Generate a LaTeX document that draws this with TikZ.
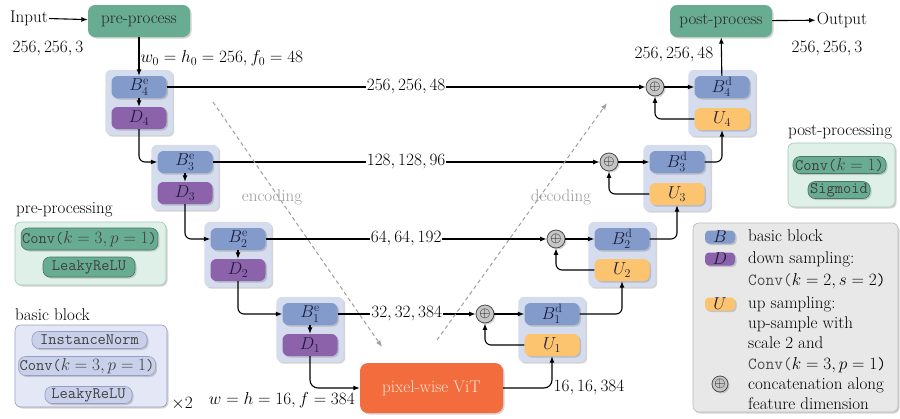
\documentclass[tikz,border=0pt]{standalone}
\usetikzlibrary{arrows.meta,shadows,fit,backgrounds}

\definecolor{grnD}{RGB}{104,172,145}
\definecolor{grnL}{RGB}{222,240,231}
\definecolor{grnE}{RGB}{165,200,183}
\definecolor{bluB}{RGB}{130,155,202}
\definecolor{purD}{RGB}{140,98,170}
\definecolor{orgU}{RGB}{252,196,110}
\definecolor{grpbg}{RGB}{212,220,238}
\definecolor{vitc}{RGB}{242,108,62}
\definecolor{vittxt}{RGB}{255,228,210}
\definecolor{legbg}{RGB}{232,232,232}
\definecolor{bbL}{RGB}{228,232,246}
\definecolor{bbP}{RGB}{200,208,234}
\definecolor{bbE}{RGB}{150,158,195}
\definecolor{txtdark}{RGB}{28,30,60}

\begin{document}
\begin{tikzpicture}[x=1pt,y=-1pt,
  font=\fontsize{17}{20}\selectfont,
  >={Latex[length=6.5pt,width=5pt]},
  conn/.style={->, line width=1.1pt},
  shad/.style={drop shadow={shadow xshift=1.5pt,shadow yshift=-1.5pt,opacity=.35}},
  blk/.style={shad, rounded corners=6pt, minimum width=55pt, minimum height=22pt, inner sep=0pt, text=txtdark},
  bb/.style={blk, fill=bluB},
  dd/.style={blk, fill=purD},
  uu/.style={blk, fill=orgU},
  grp/.style={fill=grpbg, rounded corners=6pt, inner sep=6pt, shad},
  cat/.style={circle, draw=black!70, fill=gray!45, minimum size=18pt, inner sep=0pt, line width=0.8pt, shad, font=\fontsize{15}{15}\selectfont},
  proc/.style={shad, rounded corners=7pt, fill=grnD, minimum width=102pt, minimum height=32pt, inner sep=0pt, text=black!85},
  panel/.style={shad, rounded corners=6pt, line width=0.6pt},
  pill/.style={shad, rounded corners=7pt, inner sep=1pt, line width=0.6pt, font=\fontsize{16}{16}\selectfont, text=black!75},
  gpill/.style={pill, fill=grnD, draw=grnD!70!black},
  bpill/.style={pill, fill=bbP, draw=bbE},
  swatch/.style={shad, rounded corners=4pt, minimum width=30pt, minimum height=13pt, inner sep=0pt, text=txtdark},
  legtxt/.style={anchor=west, inner sep=0pt, text height=12pt, text depth=4pt},
  dim/.style={inner sep=1pt}
]
\useasboundingbox (0,0) rectangle (900,418);

% ---------- input / output ----------
\node[dim] (in) at (29,18) {Input};
\node[proc] (pre) at (139,21) {pre-process};
\node[dim] at (48,49) {$256, 256, 3$};
\node[proc] (post) at (721,21) {post-process};
\node[dim] (out) at (842,20) {Output};
\node[dim] at (827,49) {$256, 256, 3$};
\node[dim] at (674,55) {$256, 256, 48$};

% ---------- encoder ----------
\node[bb] (B4e) at (139,87) {$B^{\mathrm{e}}_4$};
\node[dd] (D4)  at (139,118) {$D_4$};
\node[bb] (B3e) at (185,162) {$B^{\mathrm{e}}_3$};
\node[dd] (D3)  at (185,193) {$D_3$};
\node[bb] (B2e) at (238,239) {$B^{\mathrm{e}}_2$};
\node[dd] (D2)  at (238,270) {$D_2$};
\node[bb] (B1e) at (310,314) {$B^{\mathrm{e}}_1$};
\node[dd] (D1)  at (310,345) {$D_1$};

% ---------- decoder ----------
\node[bb] (B4d) at (722,87) {$B^{\mathrm{d}}_4$};
\node[uu] (U4)  at (722,119) {$U_4$};
\node[bb] (B3d) at (677,162) {$B^{\mathrm{d}}_3$};
\node[uu] (U3)  at (677,194) {$U_3$};
\node[bb] (B2d) at (622,239) {$B^{\mathrm{d}}_2$};
\node[uu] (U2)  at (622,270) {$U_2$};
\node[bb] (B1d) at (552,314) {$B^{\mathrm{d}}_1$};
\node[uu] (U1)  at (552,345) {$U_1$};

% ---------- concatenation nodes ----------
\node[cat] (c4) at (655,87) {$\oplus$};
\node[cat] (c3) at (609,162) {$\oplus$};
\node[cat] (c2) at (556,239) {$\oplus$};
\node[cat] (c1) at (485,314) {$\oplus$};

% ---------- bottleneck ----------
\node[shad, rounded corners=8pt, fill=vitc, minimum width=143pt, minimum height=50pt,
      inner sep=0pt, text=vittxt] (vit) at (431.5,388) {pixel-wise ViT};
\node[dim, anchor=east] at (356,400) {$w = h = 16, f = 384$};
\node[dim] at (589,388) {$16, 16, 384$};

% ---------- block groups ----------
\begin{pgfonlayer}{background}
  \node[grp, fit=(B4e)(D4)] {};
  \node[grp, fit=(B3e)(D3)] {};
  \node[grp, fit=(B2e)(D2)] {};
  \node[grp, fit=(B1e)(D1)] {};
  \node[grp, fit=(B4d)(U4)] {};
  \node[grp, fit=(B3d)(U3)] {};
  \node[grp, fit=(B2d)(U2)] {};
  \node[grp, fit=(B1d)(U1)] {};
\end{pgfonlayer}

% ---------- connectors ----------
\draw[conn] (in) -- (pre);
\draw[conn] (pre) -- node[dim, anchor=west, pos=0.55] {$w_0 = h_0 = 256, f_0 = 48$} (B4e);
\draw[conn] (post) -- (out);
\draw[conn] (B4d) -- (post);

\foreach \b/\d in {B4e/D4, B3e/D3, B2e/D2, B1e/D1}
  \draw[conn] (\b) -- (\d);

\draw[conn, rounded corners=6pt] (D4.south) |- (B3e.west);
\draw[conn, rounded corners=6pt] (D3.south) |- (B2e.west);
\draw[conn, rounded corners=6pt] (D2.south) |- (B1e.west);
\draw[conn, rounded corners=8pt] (D1.south) |- (vit.west);
\draw[conn, rounded corners=8pt] (vit.east) -| (U1.south);

\draw[conn] (B4e) -- node[dim, fill=white] {$256, 256, 48$} (c4);
\draw[conn] (B3e) -- node[dim, fill=white] {$128, 128, 96$} (c3);
\draw[conn] (B2e) -- node[dim, fill=white] {$64, 64, 192$} (c2);
\draw[conn] (B1e) -- node[dim, fill=white] {$32, 32, 384$} (c1);

\foreach \c/\b in {c4/B4d, c3/B3d, c2/B2d, c1/B1d}
  \draw[conn] (\c) -- (\b);
\foreach \u/\c in {U4/c4, U3/c3, U2/c2, U1/c1}
  \draw[conn, rounded corners=6pt] (\u.west) -| (\c.south);

\draw[conn, rounded corners=6pt] (B1d.east) -| (U2.south);
\draw[conn, rounded corners=6pt] (B2d.east) -| (U3.south);
\draw[conn, rounded corners=6pt] (B3d.east) -| (U4.south);

% ---------- encoding / decoding hints ----------
\coordinate (encA) at (213,102);
\coordinate (encB) at (382,347);
\coordinate (decA) at (437,340);
\coordinate (decB) at (607,103);
\draw[->, dash pattern=on 4pt off 3pt, gray!75, line width=1pt] (encA) -- (encB);
\draw[->, dash pattern=on 4pt off 3pt, gray!75, line width=1pt] (decA) -- (decB);
\node[text=gray!80] at (272,197) {encoding};
\node[text=gray!80] at (561,197) {decoding};

% ---------- pre-processing panel ----------
\node[anchor=west, inner sep=0pt] at (16,210) {pre-processing};
\node[panel, fill=grnL, draw=grnE, minimum width=151pt, minimum height=63pt] (prebox) at (90.5,253.5) {};
\node[gpill, minimum width=135pt, minimum height=22pt] (preconv) at (89.5,239) {\texttt{Conv(}$k = 3, p = 1$\texttt{)}};
\node[gpill, minimum width=92pt, minimum height=20pt] (prerelu) at (89,267) {\texttt{LeakyReLU}};

% ---------- basic block panel ----------
\node[anchor=west, inner sep=0pt] at (15,315) {basic block};
\node[panel, fill=bbL, draw=bbE, minimum width=152pt, minimum height=82pt] (bbbox) at (91,366) {};
\node[bpill, minimum width=115pt, minimum height=17pt] (bbnorm) at (89.5,340) {\texttt{InstanceNorm}};
\node[bpill, minimum width=130pt, minimum height=19pt] (bbconv) at (87,366) {\texttt{Conv(}$k = 3, p = 1$\texttt{)}};
\node[bpill, minimum width=87pt, minimum height=17pt] (bbrelu) at (88.5,395) {\texttt{LeakyReLU}};
\node[inner sep=0pt] at (182,404) {$\times 2$};

% ---------- post-processing panel ----------
\node[anchor=west, inner sep=0pt] at (788,132) {post-processing};
\node[panel, fill=grnL, draw=grnE, minimum width=107pt, minimum height=64pt] (postbox) at (841.5,175) {};
\node[gpill, minimum width=93pt, minimum height=17pt] (postconv) at (839.5,165) {\texttt{Conv(}$k = 1$\texttt{)}};
\node[gpill, minimum width=62pt, minimum height=17pt] (postsig) at (839,190) {\texttt{Sigmoid}};

% ---------- legend ----------
\node[panel, fill=legbg, draw=gray!55, minimum width=205pt, minimum height=189pt] (leg) at (795.5,317.5) {};
\node[swatch, fill=bluB] (lB) at (720,237) {$B$};
\node[swatch, fill=purD] (lD) at (720,259) {$D$};
\node[swatch, fill=orgU] (lU) at (720,304) {$U$};
\node[cat, minimum size=16pt] (lC) at (720,384) {$\oplus$};
\node[legtxt] at (748,237) {basic block};
\node[legtxt] at (748,259) {down sampling:};
\node[legtxt] at (748,281) {\textcolor{gray!60!black}{\texttt{Conv(}}$k = 2, s = 2$\texttt{)}};
\node[legtxt] at (748,304) {up sampling:};
\node[legtxt] at (748,324) {up-sample with};
\node[legtxt] at (748,344) {scale 2 and};
\node[legtxt] at (748,365) {\textcolor{gray!60!black}{\texttt{Conv(}}$k = 3, p = 1$\texttt{)}};
\node[legtxt] at (748,385) {concatenation along};
\node[legtxt] at (748,405) {feature dimension};
\end{tikzpicture}
\end{document}
